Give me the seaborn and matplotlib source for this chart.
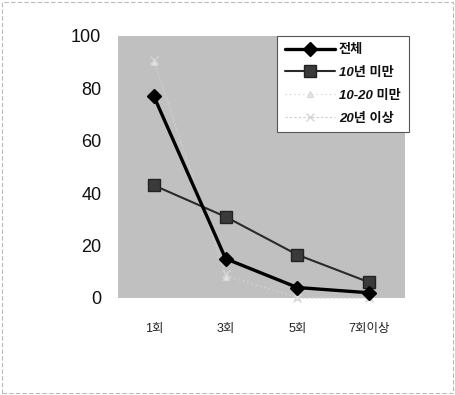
import matplotlib
matplotlib.use("Agg")
import matplotlib.pyplot as plt
import seaborn as sns
import pandas as pd
from matplotlib.patches import Rectangle

sns.set_style("white")
plt.rcParams["font.family"] = ["Liberation Sans", "Noto Sans CJK KR", "DejaVu Sans"]

categories = ["1회", "3회", "5회", "7회이상"]
series_names = ["전체", "10년 미만", "10-20 미만", "20년 이상"]
total = [77, 15, 4, 2]
under10 = [43, 31, 16.5, 6]
from10to20 = [90, 8, 0.5, 0.5]
over20 = [91, 9, 0, 0]
y_ticks = [0, 20, 40, 60, 80, 100]

df = pd.DataFrame({
    "category": categories * 4,
    "value": total + under10 + from10to20 + over20,
    "series": sum([[n] * len(categories) for n in series_names], []),
})

styles = {
    "전체": dict(color="black", lw=2.4, ls="-", marker="D", ms=7, mfc="black", mec="black", mew=1),
    "10년 미만": dict(color="#2a2a2a", lw=1.5, ls="-", marker="s", ms=8, mfc="#3a3a3a", mec="#222222", mew=1),
    "10-20 미만": dict(color="#cfcfcf", lw=0.8, ls=(0, (1, 3)), marker="^", ms=5, mfc="#e4e4e4", mec="#d8d8d8", mew=0.8),
    "20년 이상": dict(color="#cdcdcd", lw=0.8, ls=(0, (2, 2)), marker="x", ms=6, mfc="none", mec="#d6d6d6", mew=1.0),
}

fig = plt.figure(figsize=(4.56, 3.95), dpi=100)
fig.patch.set_facecolor("white")
ax = fig.add_axes([118 / 456, 1 - 298 / 395, (405 - 118) / 456, (298 - 36) / 395])
ax.set_facecolor("#c0c0c0")

for name in reversed(series_names):
    st = styles[name]
    sub = df[df["series"] == name]
    sns.lineplot(data=sub, x="category", y="value", ax=ax, sort=False,
                 color=st["color"], linewidth=st["lw"], linestyle=st["ls"],
                 marker=st["marker"], markersize=st["ms"], markerfacecolor=st["mfc"],
                 markeredgecolor=st["mec"], markeredgewidth=st["mew"],
                 label=name, clip_on=False)

ax.set_xlim(-0.5, 3.5)
ax.set_ylim(0, 100)
ax.set_yticks(y_ticks)
ax.set_yticklabels([str(t) for t in y_ticks], fontsize=13, color="#111111")
ax.tick_params(axis="y", length=0, pad=12)
ax.tick_params(axis="x", length=0, pad=18, labelsize=9)
for lab in ax.get_xticklabels():
    lab.set_color("#222222")
ax.set_xlabel("")
ax.set_ylabel("")
for s in ax.spines.values():
    s.set_visible(False)

handles, labels = ax.get_legend_handles_labels()
order = [labels.index(n) for n in series_names]
leg = ax.legend([handles[i] for i in order], [labels[i] for i in order],
                loc="upper left", bbox_to_anchor=((277 - 118) / 287, 1.0), frameon=True,
                fancybox=False, edgecolor="#555555", facecolor="white",
                framealpha=1, fontsize=9.5, handlelength=3.8, borderpad=0.6,
                labelspacing=0.8, handletextpad=0.3, borderaxespad=0)
leg.get_frame().set_linewidth(0.8)
for t in leg.get_texts():
    t.set_fontweight("bold")
    t.set_color("#111111")
for t in leg.get_texts()[1:]:
    t.set_fontstyle("italic")

# light dashed frame around the whole figure
fig.patches.append(Rectangle((0.004, 0.004), 0.99, 0.99, transform=fig.transFigure,
                             fill=False, edgecolor="#bbbbbb", linewidth=0.8,
                             linestyle=(0, (4, 2))))

fig.savefig("out.png", dpi=100, facecolor="white")
